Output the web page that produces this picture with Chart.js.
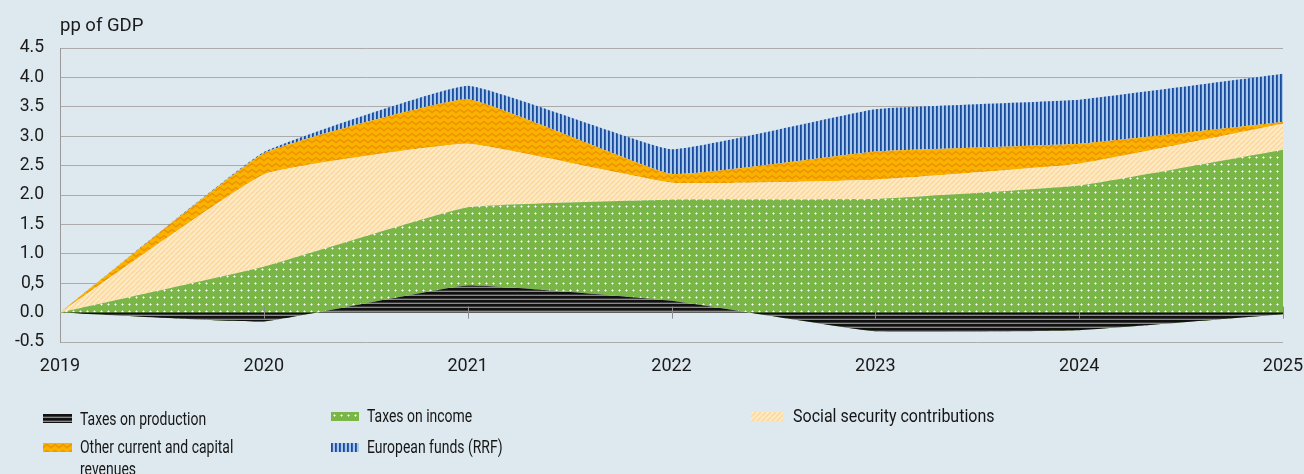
<!DOCTYPE html>
<html>
<head>
<meta charset="utf-8">
<script src="https://cdn.jsdelivr.net/npm/chart.js@4.4.1/dist/chart.umd.min.js"></script>
<style>
  html, body { margin: 0; padding: 0; background: #dde9ef; }
  #wrap { position: relative; width: 1304px; height: 474px; overflow: hidden; background: #dde9ef;
          font-family: Roboto, "Noto Sans", sans-serif; color: #1a1a1a; }
  #chart { position: absolute; left: 0; top: 0; }
  #unit { position: absolute; left: 60px; top: 14px; font-size: 18.5px; line-height: 22px; }
  .item { position: absolute; }
  .item .txt { position: absolute; font-size: 18.5px; line-height: 22px; white-space: normal;
               transform-origin: 0 0; color: #161616; }
</style>
</head>
<body>
<div id="wrap">
  <canvas id="chart" width="1304" height="474"></canvas>
  <div id="unit">pp of GDP</div>
  <div id="legend"></div>
</div>
<script>
// Contribution to revenue growth since 2019, percentage points of GDP
const years = ['2019', '2020', '2021', '2022', '2023', '2024', '2025'];
const taxesOnProduction = [0, -0.15, 0.46, 0.20, -0.32, -0.30, -0.03];
const taxesOnIncome     = [0, 0.78, 1.33, 1.72, 1.93, 2.16, 2.77];
const socialSecurity    = [0, 1.57, 1.08, 0.29, 0.33, 0.37, 0.44];
const otherRevenues     = [0, 0.36, 0.76, 0.15, 0.48, 0.34, 0.03];
const europeanFunds     = [0, 0.02, 0.23, 0.42, 0.72, 0.75, 0.82];
const yTickLabels = ['-0.5', '0.0', '0,5', '1.0', '1.5', '2.0', '2.5', '3.0', '3.5', '4.0', '4.5'];

// ---- fill patterns ----
function tile(w, h, draw) {
  const c = document.createElement('canvas');
  c.width = w; c.height = h;
  draw(c.getContext('2d'), w, h);
  return c;
}
const tiles = {
  production: tile(1, 4, (g) => {
    g.fillStyle = '#111111'; g.fillRect(0, 0, 1, 2);
    g.fillStyle = '#3a3a3a'; g.fillRect(0, 2, 1, 1);
    g.fillStyle = '#8a8a8a'; g.fillRect(0, 3, 1, 1);
  }),
  income: tile(7, 7, (g) => {
    g.fillStyle = '#7ab547'; g.fillRect(0, 0, 7, 7);
    g.fillStyle = 'rgba(255,255,255,0.55)';
    g.fillRect(2, 3, 1, 1); g.fillRect(4, 3, 1, 1); g.fillRect(3, 2, 1, 1); g.fillRect(3, 4, 1, 1);
    g.fillStyle = '#ffffff'; g.fillRect(3, 3, 1, 1);
  }),
  social: tile(5, 5, (g) => {
    g.fillStyle = '#feebc8'; g.fillRect(0, 0, 5, 5);
    g.strokeStyle = '#fcd89c'; g.lineWidth = 1.6;
    for (let k = -5; k <= 10; k += 5) {
      g.beginPath(); g.moveTo(k, 5); g.lineTo(k + 5, 0); g.stroke();
    }
  }),
  other: tile(8, 6, (g) => {
    g.fillStyle = '#f9b200'; g.fillRect(0, 0, 8, 6);
    g.strokeStyle = '#ef8f00'; g.lineWidth = 1.4;
    g.beginPath(); g.moveTo(-4, 1.5); g.lineTo(0, 4.5); g.lineTo(4, 1.5); g.lineTo(8, 4.5); g.lineTo(12, 1.5); g.stroke();
  }),
  funds: tile(4, 1, (g) => {
    g.fillStyle = '#a9c9ec'; g.fillRect(0, 0, 4, 1);
    g.fillStyle = '#1b4c9c'; g.fillRect(0, 0, 1, 1);
    g.fillStyle = '#3563ad'; g.fillRect(1, 0, 1, 1);
  })
};
const ctx = document.getElementById('chart').getContext('2d');
const pat = {};
for (const k in tiles) pat[k] = ctx.createPattern(tiles[k], 'repeat');

const series = [
  { label: 'Taxes on production', data: taxesOnProduction, key: 'production', fill: 'origin' },
  { label: 'Taxes on income', data: taxesOnIncome, key: 'income', fill: '-1' },
  { label: 'Social security contributions', data: socialSecurity, key: 'social', fill: '-1' },
  { label: 'Other current and capital revenues', data: otherRevenues, key: 'other', fill: '-1' },
  { label: 'European funds (RRF)', data: europeanFunds, key: 'funds', fill: '-1' }
];

// small tick marks on the zero line
const zeroTicks = {
  id: 'zeroTicks',
  afterDatasetsDraw(chart) {
    const x = chart.scales.x, y = chart.scales.y;
    const y0 = y.getPixelForValue(0);
    const c = chart.ctx;
    c.save();
    c.strokeStyle = '#8c8c8c'; c.lineWidth = 1;
    for (let i = 1; i < years.length; i++) {
      const px = Math.round(x.getPixelForValue(i)) + 0.5;
      c.beginPath(); c.moveTo(px, y0 - 6); c.lineTo(px, y0 + 6); c.stroke();
    }
    c.restore();
  }
};

new Chart(ctx, {
  type: 'line',
  data: {
    labels: years,
    datasets: series.map(s => ({
      label: s.label,
      data: s.data,
      fill: s.fill,
      backgroundColor: pat[s.key],
      borderWidth: 0,
      borderColor: 'rgba(0,0,0,0)',
      pointRadius: 0,
      tension: 0.1
    }))
  },
  options: {
    responsive: false,
    devicePixelRatio: 1,
    animation: false,
    layout: { padding: { top: 48, right: 21, left: 0, bottom: 0 } },
    plugins: { legend: { display: false }, tooltip: { enabled: false }, filler: { propagate: false } },
    scales: {
      x: {
        grid: { display: false, drawTicks: false },
        border: { display: false },
        ticks: { color: '#1a1a1a', font: { family: 'Roboto', size: 18 }, padding: 14, maxRotation: 0, autoSkip: false },
        afterFit(scale) { scale.height = 132; scale.paddingLeft = 0; scale.paddingRight = 0; }
      },
      y: {
        stacked: true,
        min: -0.5, max: 4.5,
        grid: { color: '#ababab', lineWidth: 1, drawTicks: false },
        border: { display: true, color: '#9a9a9a', width: 1 },
        ticks: {
          stepSize: 0.5, padding: 16, color: '#1a1a1a', font: { family: 'Roboto', size: 17.5 },
          callback: (v, i) => yTickLabels[i]
        },
        afterFit(scale) { scale.width = 60; }
      }
    }
  },
  plugins: [zeroTicks]
});

// legend
const legendItems = [
  { key: 'production', label: series[0].label, sx: 43, sy: 414, sw: 29, tx: 80, ty: 408, sc: 0.755 },
  { key: 'income', label: series[1].label, sx: 331, sy: 412, sw: 28, tx: 367, ty: 405, sc: 0.755 },
  { key: 'social', label: series[2].label, sx: 751, sy: 412, sw: 32, tx: 793, ty: 405, sc: 0.865 },
  { key: 'other', label: series[3].label, sx: 43, sy: 443, sw: 29, tx: 80, ty: 436, sc: 0.755, wrap: 240 },
  { key: 'funds', label: series[4].label, sx: 331, sy: 443, sw: 28, tx: 367, ty: 436, sc: 0.755 }
];
const legend = document.getElementById('legend');
legendItems.forEach(it => {
  const sw = document.createElement('canvas');
  sw.width = it.sw; sw.height = 9;
  sw.style.position = 'absolute'; sw.style.left = it.sx + 'px'; sw.style.top = it.sy + 'px';
  const g = sw.getContext('2d');
  g.fillStyle = g.createPattern(tiles[it.key], 'repeat');
  g.fillRect(0, 0, it.sw, 9);
  legend.appendChild(sw);
  const t = document.createElement('div');
  t.className = 'item';
  t.style.left = it.tx + 'px'; t.style.top = it.ty + 'px';
  const s = document.createElement('div');
  s.className = 'txt';
  s.style.transform = 'scaleX(' + it.sc + ')';
  s.textContent = it.label;
  if (it.wrap) { s.style.width = it.wrap + 'px'; } else { s.style.whiteSpace = 'nowrap'; }
  t.appendChild(s);
  legend.appendChild(t);
});
</script>
</body>
</html>
